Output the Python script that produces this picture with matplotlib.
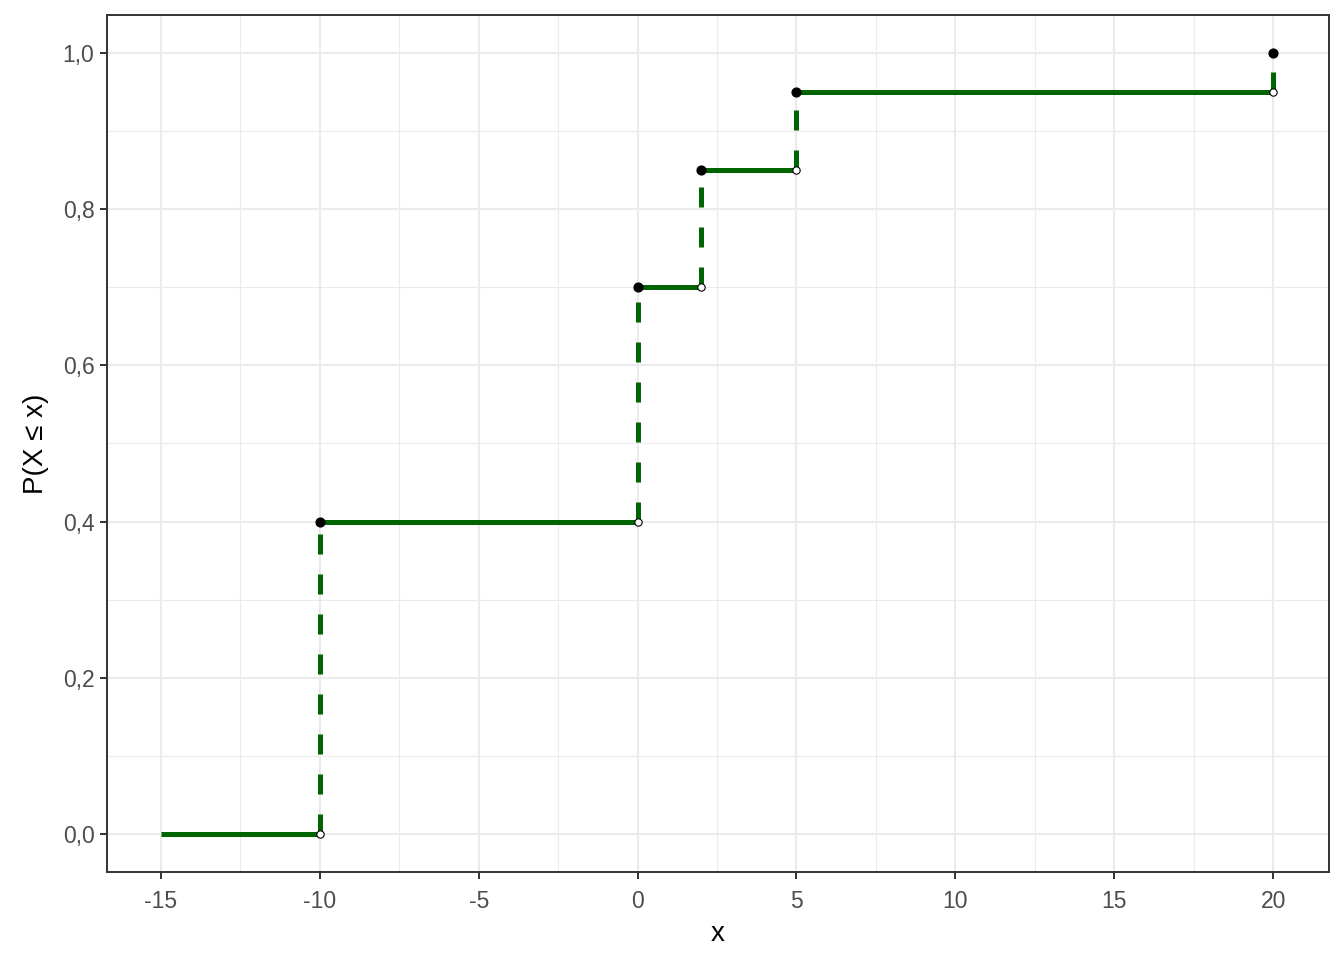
import numpy as np
import matplotlib.pyplot as plt

plt.rcParams['font.family'] = ['Liberation Sans', 'DejaVu Sans']
plt.rcParams['axes.unicode_minus'] = False

# jump points of the CDF and its values
jumps = [-10, 0, 2, 5, 20]
cdf_before = [0.0, 0.4, 0.7, 0.85, 0.95]
cdf_after = [0.4, 0.7, 0.85, 0.95, 1.0]
seg_start = [-15, -10, 0, 2, 5]
seg_end = [-10, 0, 2, 5, 20]
seg_level = [0.0, 0.4, 0.7, 0.85, 0.95]

xticks = [-15, -10, -5, 0, 5, 10, 15, 20]
yticks = [0.0, 0.2, 0.4, 0.6, 0.8, 1.0]

green = '#006400'
grey20 = '#333333'

fig = plt.figure(figsize=(13.44, 9.6), dpi=100)
ax = fig.add_axes([107/1344, 1 - 872/960, (1329-107)/1344, (872-15)/960])

ax.set_xlim(-16.7, 21.76)
ax.set_ylim(-0.0487, 1.0487)

# grid like theme_bw
ax.set_xticks(xticks)
ax.set_yticks(yticks)
ax.set_xticks(np.arange(-12.5, 20, 5), minor=True)
ax.set_yticks(np.arange(0.1, 1.0, 0.2), minor=True)
ax.grid(True, which='major', color='#EBEBEB', linewidth=1.5)
ax.grid(True, which='minor', color='#EBEBEB', linewidth=0.8)
ax.set_axisbelow(True)

ax.hlines(seg_level, seg_start, seg_end, color=green, linewidth=3.6, zorder=3)
ax.vlines(jumps, cdf_before, cdf_after, color=green, linewidth=3.6,
          linestyles=(0, (4, 4)), zorder=3)
ax.scatter(jumps, cdf_after, s=40, color='black', zorder=4)
ax.scatter(jumps, cdf_before, s=28, facecolor='white', edgecolor='black',
           linewidth=0.8, zorder=4)

ax.set_yticklabels([f'{v:.1f}'.replace('.', ',') for v in yticks])
ax.tick_params(which='major', length=5, width=1.4, color=grey20,
               labelsize=16.5, labelcolor='#4D4D4D')
ax.tick_params(axis='x', which='major', pad=8)
ax.tick_params(axis='y', which='major', pad=4)
ax.tick_params(which='minor', length=0)
for s in ax.spines.values():
    s.set_color(grey20)
    s.set_linewidth(1.4)

ax.set_xlabel('x', fontsize=20, labelpad=6)
ax.set_ylabel('P(X ≤ x)', fontsize=20, labelpad=10)

fig.savefig('out.png', dpi=100)
